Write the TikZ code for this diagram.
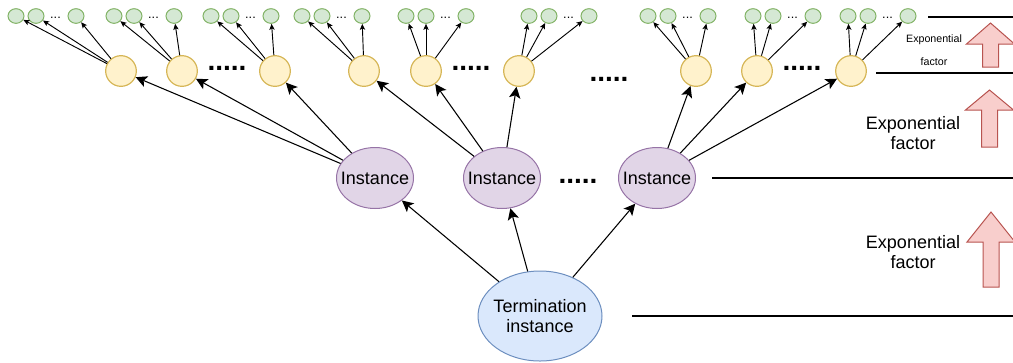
\documentclass[tikz,border=0pt]{standalone}
\usepackage{fontspec}
\setmainfont{Liberation Sans}
\usetikzlibrary{arrows.meta,shapes.geometric}

\definecolor{leaffill}{HTML}{D5E8D4}
\definecolor{leafline}{HTML}{82B366}
\definecolor{midfill}{HTML}{FFF2CC}
\definecolor{midline}{HTML}{D6B656}
\definecolor{instfill}{HTML}{E1D5E7}
\definecolor{instline}{HTML}{9673A6}
\definecolor{termfill}{HTML}{DAE8FC}
\definecolor{termline}{HTML}{6C8EBF}
\definecolor{factorfill}{HTML}{F8CECC}
\definecolor{factorline}{HTML}{B85450}

% block arrow: centre x, tip, head base, bottom
\newcommand{\factorarrow}[4]{%
  \draw[factor] (#1,#2) -- (#1+24,#3) -- (#1+8,#3) -- (#1+8,#4)
    -- (#1-8,#4) -- (#1-8,#3) -- (#1-24,#3) -- cycle;}

\begin{document}
\begin{tikzpicture}[x=0.75pt, y=-0.75pt,
    leaf/.style = {ellipse, draw=leafline, fill=leaffill, line width=0.75pt,
        minimum width=12pt, minimum height=11pt, inner sep=0pt},
    mid/.style = {circle, draw=midline, fill=midfill, line width=0.9pt,
        minimum size=23pt, inner sep=0pt},
    inst/.style = {ellipse, draw=instline, fill=instfill, line width=0.75pt,
        minimum width=57.75pt, minimum height=45.75pt, inner xsep=-8pt,
        inner ysep=0pt, font=\fontsize{13.5}{15}\selectfont},
    term/.style = {ellipse, draw=termline, fill=termfill, line width=0.75pt,
        minimum width=93pt, minimum height=67.5pt, inner xsep=-3pt,
        inner ysep=0pt, align=center, font=\fontsize{13.5}{15}\selectfont},
    dots/.style = {anchor=base, inner sep=0pt,
        font=\fontsize{21}{21}\selectfont\bfseries},
    fewdots/.style = {anchor=base, inner sep=0pt,
        font=\fontsize{9.5}{9.5}\selectfont},
    label/.style = {align=center, inner sep=0pt,
        font=\fontsize{13.5}{15}\selectfont},
    smalllabel/.style = {align=center, inner sep=0pt,
        font=\fontsize{8}{9}\selectfont},
    link/.style = {line width=0.8pt, -{Stealth[length=8.5pt, width=8.5pt, inset=2pt]}},
    twig/.style = {line width=0.7pt, -{Stealth[length=4.5pt, width=4pt, inset=1pt]}},
    level/.style = {line width=0.9pt},
    factor/.style = {draw=factorline, fill=factorfill, line width=0.75pt}]
  \useasboundingbox (0,0) rectangle (1013,362);

  % leaves
  \foreach \g/\a in {1/16, 2/114, 3/211, 4/302, 5/406, 6/529, 7/648, 8/753, 9/848} {
    \node (g\g-a) [leaf] at (\a,16) {};
    \node (g\g-b) [leaf] at (\a+20,16) {};
    \node (g\g-c) [leaf] at (\a+60,16) {};
    \node [fewdots] at (\a+39.5,18) {...};
  }

  % middle level
  \foreach \g/\a in {1/121, 2/182, 3/275, 4/364, 5/426, 6/519, 7/696, 8/757, 9/851}
    \node (y\g) [mid] at (\a,71) {};
  \node [dots] at (227,70) {.....};
  \node [dots] at (471,70) {.....};
  \node [dots] at (802,70) {.....};
  \node [dots] at (609,81) {.....};

  % instances
  \node (i1) [inst] at (375,178) {Instance};
  \node (i2) [inst] at (502,178) {Instance};
  \node (i3) [inst] at (657,178) {Instance};
  \node [dots] at (578,183) {.....};
  \node (term) [term] at (540,316) {Termination\\instance};

  \foreach \g in {1,...,9}
    \foreach \s in {a,b,c}
      \draw[twig] (y\g) -- (g\g-\s);
  \draw[link] (i1) -- (y1);
  \draw[link] (i1) -- (y2);
  \draw[link] (i1) -- (y3);
  \draw[link] (i2) -- (y4);
  \draw[link] (i2) -- (y5);
  \draw[link] (i2) -- (y6);
  \draw[link] (i3) -- (y7);
  \draw[link] (i3) -- (y8);
  \draw[link] (i3) -- (y9);
  \draw[link] (term) -- (i1);
  \draw[link] (term) -- (i2);
  \draw[link] (term) -- (i3);

  % levels on the right
  \draw[level] (928,17) -- (1013,17);
  \draw[level] (876,73) -- (1013,73);
  \draw[level] (712,178) -- (1013,178);
  \draw[level] (632,316) -- (1013,316);
  \factorarrow{990.5}{23}{44}{67}
  \factorarrow{989.5}{90}{110}{147}
  \factorarrow{991}{212}{242}{287}
  \node (f1) [smalllabel] at (934,50) {Exponential\\[8pt]factor};
  \node (f2) [label] at (913,133) {Exponential\\factor};
  \node (f3) [label] at (913,252) {Exponential\\factor};
\end{tikzpicture}
\end{document}
